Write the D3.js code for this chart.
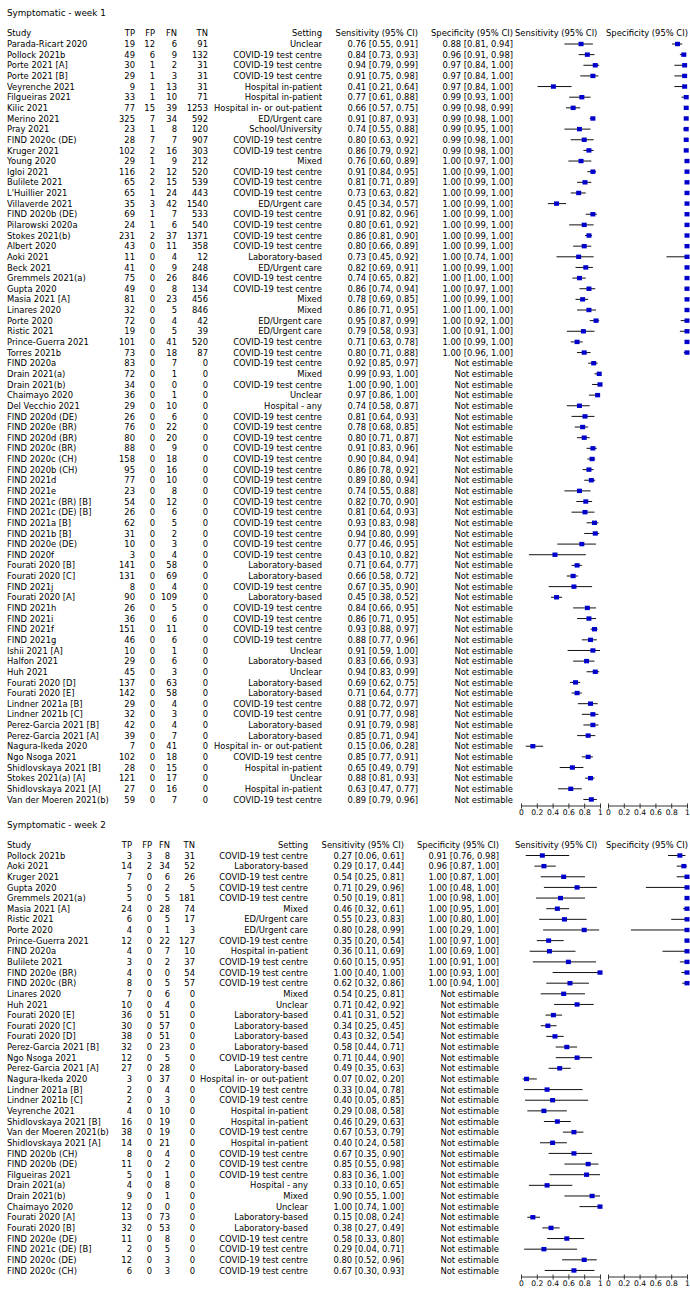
<!DOCTYPE html>
<html><head><meta charset="utf-8">
<script src="https://cdn.jsdelivr.net/npm/d3@7"></script>
<style>html,body{margin:0;padding:0;background:#fff}svg{display:block}</style>
</head><body>
<svg id="chart" width="690" height="1313"></svg>
<script>
// ---------------- DATA ----------------
const COVID = "COVID-19 test centre", LAB = "Laboratory-based", HIP = "Hospital in-patient",
      HIO = "Hospital in- or out-patient", ED = "ED/Urgent care";

// Week 1
const w1Study = ["Parada-Ricart 2020","Pollock 2021b","Porte 2021 [A]","Porte 2021 [B]","Veyrenche 2021","Filgueiras 2021","Kilic 2021","Merino 2021","Pray 2021","FIND 2020c (DE)","Kruger 2021","Young 2020","Igloi 2021","Bulilete 2021","L'Huillier 2021","Villaverde 2021","FIND 2020b (DE)","Pilarowski 2020a","Stokes 2021(b)","Albert 2020","Aoki 2021","Beck 2021","Gremmels 2021(a)","Gupta 2020","Masia 2021 [A]","Linares 2020","Porte 2020","Ristic 2021","Prince-Guerra 2021","Torres 2021b","FIND 2020a","Drain 2021(a)","Drain 2021(b)","Chaimayo 2020","Del Vecchio 2021","FIND 2020d (DE)","FIND 2020e (BR)","FIND 2020d (BR)","FIND 2020c (BR)","FIND 2020c (CH)","FIND 2020b (CH)","FIND 2021d","FIND 2021e","FIND 2021c (BR) [B]","FIND 2021c (DE) [B]","FIND 2021a [B]","FIND 2021b [B]","FIND 2020e (DE)","FIND 2020f","Fourati 2020 [B]","Fourati 2020 [C]","FIND 2021j","Fourati 2020 [A]","FIND 2021h","FIND 2021i","FIND 2021f","FIND 2021g","Ishii 2021 [A]","Halfon 2021","Huh 2021","Fourati 2020 [D]","Fourati 2020 [E]","Lindner 2021a [B]","Lindner 2021b [C]","Perez-Garcia 2021 [B]","Perez-Garcia 2021 [A]","Nagura-Ikeda 2020","Ngo Nsoga 2021","Shidlovskaya 2021 [B]","Stokes 2021(a) [A]","Shidlovskaya 2021 [A]","Van der Moeren 2021(b)"];
const w1TP = [19,49,30,29,9,33,77,325,23,28,102,29,116,65,65,35,69,24,231,43,11,41,75,49,81,32,72,19,101,73,83,72,34,36,29,26,76,80,88,158,95,77,23,54,26,62,31,10,3,141,131,8,90,26,36,151,46,10,29,45,137,142,29,32,42,39,7,102,28,121,27,59];
const w1FP = [12,6,1,1,1,1,15,7,1,7,2,1,2,2,1,3,1,1,2,0,0,0,0,0,0,0,0,0,0,0,0,0,0,0,0,0,0,0,0,0,0,0,0,0,0,0,0,0,0,0,0,0,0,0,0,0,0,0,0,0,0,0,0,0,0,0,0,0,0,0,0,0];
const w1FN = [6,9,2,3,13,10,39,34,8,7,16,9,12,15,24,42,7,6,37,11,4,9,26,8,23,5,4,5,41,18,7,1,0,1,10,6,22,20,9,18,16,10,8,12,6,5,2,3,4,58,69,4,109,5,6,11,6,1,6,3,63,58,4,3,4,7,41,18,15,17,16,7];
const w1TN = [91,132,31,31,31,71,1253,592,120,907,303,212,520,539,443,1540,533,540,1371,358,12,248,846,134,456,846,42,39,520,87,0,0,0,0,0,0,0,0,0,0,0,0,0,0,0,0,0,0,0,0,0,0,0,0,0,0,0,0,0,0,0,0,0,0,0,0,0,0,0,0,0,0];
const w1Setting = ["Unclear",COVID,COVID,COVID,HIP,HIP,HIO,ED,"School/University",COVID,COVID,"Mixed",COVID,COVID,COVID,ED,COVID,COVID,COVID,COVID,LAB,ED,COVID,COVID,"Mixed","Mixed",ED,ED,COVID,COVID,COVID,"Mixed",COVID,"Unclear","Hospital - any",COVID,COVID,COVID,COVID,COVID,COVID,COVID,COVID,COVID,COVID,COVID,COVID,COVID,COVID,LAB,LAB,COVID,LAB,COVID,COVID,COVID,COVID,"Unclear",LAB,"Unclear",LAB,LAB,COVID,COVID,LAB,LAB,HIO,COVID,HIP,"Unclear",HIP,COVID];
const w1Sens   = [0.76,0.84,0.94,0.91,0.41,0.77,0.66,0.91,0.74,0.80,0.86,0.76,0.91,0.81,0.73,0.45,0.91,0.80,0.86,0.80,0.73,0.82,0.74,0.86,0.78,0.86,0.95,0.79,0.71,0.80,0.92,0.99,1.00,0.97,0.74,0.81,0.78,0.80,0.91,0.90,0.86,0.89,0.74,0.82,0.81,0.93,0.94,0.77,0.43,0.71,0.66,0.67,0.45,0.84,0.86,0.93,0.88,0.91,0.83,0.94,0.69,0.71,0.88,0.91,0.91,0.85,0.15,0.85,0.65,0.88,0.63,0.89];
const w1SensLo = [0.55,0.73,0.79,0.75,0.21,0.61,0.57,0.87,0.55,0.63,0.79,0.60,0.84,0.71,0.63,0.34,0.82,0.61,0.81,0.66,0.45,0.69,0.65,0.74,0.69,0.71,0.87,0.58,0.63,0.71,0.85,0.93,0.90,0.86,0.58,0.64,0.68,0.71,0.83,0.84,0.78,0.80,0.55,0.70,0.64,0.83,0.80,0.46,0.10,0.64,0.58,0.35,0.38,0.66,0.71,0.88,0.77,0.59,0.66,0.83,0.62,0.64,0.72,0.77,0.79,0.71,0.06,0.77,0.49,0.81,0.47,0.79];
const w1SensHi = [0.91,0.93,0.99,0.98,0.64,0.88,0.75,0.93,0.88,0.92,0.92,0.89,0.95,0.89,0.82,0.57,0.96,0.92,0.90,0.89,0.92,0.91,0.82,0.94,0.85,0.95,0.99,0.93,0.78,0.88,0.97,1.00,1.00,1.00,0.87,0.93,0.85,0.87,0.96,0.94,0.92,0.94,0.88,0.90,0.93,0.98,0.99,0.95,0.82,0.77,0.72,0.90,0.52,0.95,0.95,0.97,0.96,1.00,0.93,0.99,0.75,0.77,0.97,0.98,0.98,0.94,0.28,0.91,0.79,0.93,0.77,0.96];
const w1Spec   = [0.88,0.96,0.97,0.97,0.97,0.99,0.99,0.99,0.99,0.99,0.99,1,1,1,1,1,1,1,1,1,1,1,1,1,1,1,1,1,1,1];
const w1SpecLo = [0.81,0.91,0.84,0.84,0.84,0.93,0.98,0.98,0.95,0.98,0.98,0.97,0.99,0.99,0.99,0.99,0.99,0.99,0.99,0.99,0.74,0.99,1.00,0.97,0.99,1.00,0.92,0.91,0.99,0.96];
const w1SpecHi = [0.94,0.98,1,1,1,1,0.99,1,1,1,1,1,1,1,1,1,1,1,1,1,1,1,1,1,1,1,1,1,1,1];

// Week 2
const w2Study = ["Pollock 2021b","Aoki 2021","Kruger 2021","Gupta 2020","Gremmels 2021(a)","Masia 2021 [A]","Ristic 2021","Porte 2020","Prince-Guerra 2021","FIND 2020a","Bulilete 2021","FIND 2020e (BR)","FIND 2020c (BR)","Linares 2020","Huh 2021","Fourati 2020 [E]","Fourati 2020 [C]","Fourati 2020 [D]","Perez-Garcia 2021 [B]","Ngo Nsoga 2021","Perez-Garcia 2021 [A]","Nagura-Ikeda 2020","Lindner 2021a [B]","Lindner 2021b [C]","Veyrenche 2021","Shidlovskaya 2021 [B]","Van der Moeren 2021(b)","Shidlovskaya 2021 [A]","FIND 2020b (CH)","FIND 2020b (DE)","Filgueiras 2021","Drain 2021(a)","Drain 2021(b)","Chaimayo 2020","Fourati 2020 [A]","Fourati 2020 [B]","FIND 2020e (DE)","FIND 2021c (DE) [B]","FIND 2020c (DE)","FIND 2020c (CH)"];
const w2TP = [3,14,7,5,5,24,6,4,12,4,3,4,8,7,10,36,30,38,32,12,27,3,2,2,4,16,38,14,8,11,5,4,9,12,13,32,11,2,12,6];
const w2FP = [3,2,0,0,0,0,0,0,0,0,0,0,0,0,0,0,0,0,0,0,0,0,0,0,0,0,0,0,0,0,0,0,0,0,0,0,0,0,0,0];
const w2FN = [8,34,6,2,5,28,5,1,22,7,2,0,5,6,4,51,57,51,23,5,28,37,4,3,10,19,19,21,4,2,1,8,1,0,73,53,8,5,3,3];
const w2TN = [31,52,26,5,181,74,17,3,127,10,37,54,57,0,0,0,0,0,0,0,0,0,0,0,0,0,0,0,0,0,0,0,0,0,0,0,0,0,0,0];
const w2Setting = [COVID,LAB,COVID,COVID,COVID,"Mixed",ED,ED,COVID,HIP,COVID,COVID,COVID,"Mixed","Unclear",LAB,LAB,LAB,LAB,COVID,LAB,HIO,COVID,COVID,HIP,HIP,COVID,HIP,COVID,COVID,COVID,"Hospital - any","Mixed","Unclear",LAB,LAB,COVID,COVID,COVID,COVID];
const w2Sens   = [0.27,0.29,0.54,0.71,0.50,0.46,0.55,0.80,0.35,0.36,0.60,1.00,0.62,0.54,0.71,0.41,0.34,0.43,0.58,0.71,0.49,0.07,0.33,0.40,0.29,0.46,0.67,0.40,0.67,0.85,0.83,0.33,0.90,1.00,0.15,0.38,0.58,0.29,0.80,0.67];
const w2SensLo = [0.06,0.17,0.25,0.29,0.19,0.32,0.23,0.28,0.20,0.11,0.15,0.40,0.32,0.25,0.42,0.31,0.25,0.32,0.44,0.44,0.35,0.02,0.04,0.05,0.08,0.29,0.53,0.24,0.35,0.55,0.36,0.10,0.55,0.74,0.08,0.27,0.33,0.04,0.52,0.30];
const w2SensHi = [0.61,0.44,0.81,0.96,0.81,0.61,0.83,0.99,0.54,0.69,0.95,1.00,0.86,0.81,0.92,0.52,0.45,0.54,0.71,0.90,0.63,0.20,0.78,0.85,0.58,0.63,0.79,0.58,0.90,0.98,1.00,0.65,1.00,1.00,0.24,0.49,0.80,0.71,0.96,0.93];
const w2Spec   = [0.91,0.96,1,1,1,1,1,1,1,1,1,1,1];
const w2SpecLo = [0.76,0.87,0.87,0.48,0.98,0.95,0.80,0.29,0.97,0.69,0.91,0.93,0.94];
const w2SpecHi = [0.98,1,1,1,1,1,1,1,1,1,1,1,1];

const tickVals = [0, 0.2, 0.4, 0.6, 0.8, 1];

// ---------------- LAYOUT ----------------
const FONT = "DejaVu Sans";
const FS = 8.4;
const ROW = 10.64;
const BLUE = "#0000cc";

const sections = [
  { title: "Symptomatic - week 1", top: 44,
    study: w1Study, tp: w1TP, fp: w1FP, fn: w1FN, tn: w1TN, setting: w1Setting,
    sens: w1Sens, sensLo: w1SensLo, sensHi: w1SensHi, spec: w1Spec, specLo: w1SpecLo, specHi: w1SpecHi,
    cols: { study: 7, tp: 135, fp: 155, fn: 177, tn: 208, setting: 322, sens: 418, spec: 513 } },
  { title: "Symptomatic - week 2", top: 855.5,
    study: w2Study, tp: w2TP, fp: w2FP, fn: w2FN, tn: w2TN, setting: w2Setting,
    sens: w2Sens, sensLo: w2SensLo, sensHi: w2SensHi, spec: w2Spec, specLo: w2SpecLo, specHi: w2SpecHi,
    cols: { study: 7, tp: 132, fp: 152, fn: 170, tn: 195, setting: 308, sens: 404, spec: 499 } }
];

const xSens = d3.scaleLinear().domain([0, 1]).range([521, 600]);
const xSpec = d3.scaleLinear().domain([0, 1]).range([608, 687]);
const f2 = d3.format(".2f");

const svg = d3.select("#chart");

sections.forEach(sec => {
  const n = sec.study.length;
  const y = d3.scaleLinear().domain([0, n - 1]).range([sec.top, sec.top + (n - 1) * ROW]);
  const g = svg.append("g").attr("font-family", FONT).attr("font-size", FS).attr("fill", "#000");
  const c = sec.cols;

  // title & header
  g.append("text").attr("x", c.study).attr("y", sec.top - 31 + 3.2).attr("font-size", 8.8).text(sec.title);
  const hy = sec.top - 11 + 3.1;
  const hdr = [["Study", c.study, "start"], ["TP", c.tp, "end"], ["FP", c.fp, "end"], ["FN", c.fn, "end"],
               ["TN", c.tn, "end"], ["Setting", c.setting, "end"], ["Sensitivity (95% CI)", c.sens, "end"],
               ["Specificity (95% CI)", c.spec, "end"], ["Sensitivity (95% CI)", 515, "start"],
               ["Specificity (95% CI)", 606, "start"]];
  g.selectAll("text.hdr").data(hdr).join("text").attr("class", "hdr")
    .attr("x", d => d[1]).attr("y", hy).attr("text-anchor", d => d[2]).text(d => d[0]);

  // rows
  const idx = d3.range(n);
  const rows = g.selectAll("g.row").data(idx).join("g").attr("class", "row");
  const ty = i => y(i) + 3.1;
  rows.append("text").attr("x", c.study).attr("y", ty).text(i => sec.study[i]);
  [["tp", c.tp], ["fp", c.fp], ["fn", c.fn], ["tn", c.tn]].forEach(([k, x]) => {
    rows.append("text").attr("x", x).attr("y", ty).attr("text-anchor", "end").text(i => sec[k][i]);
  });
  rows.append("text").attr("x", c.setting).attr("y", ty).attr("text-anchor", "end").text(i => sec.setting[i]);
  rows.append("text").attr("x", c.sens).attr("y", ty).attr("text-anchor", "end")
    .text(i => `${f2(sec.sens[i])} [${f2(sec.sensLo[i])}, ${f2(sec.sensHi[i])}]`);
  rows.append("text").attr("x", c.spec).attr("y", ty).attr("text-anchor", "end")
    .text(i => i < sec.spec.length ? `${f2(sec.spec[i])} [${f2(sec.specLo[i])}, ${f2(sec.specHi[i])}]` : "Not estimable");

  // forest marks: sensitivity
  const pg = svg.append("g");
  pg.selectAll("line.sci").data(idx).join("line").attr("class", "sci")
    .attr("x1", i => xSens(sec.sensLo[i])).attr("x2", i => xSens(sec.sensHi[i]))
    .attr("y1", i => y(i)).attr("y2", i => y(i)).attr("stroke", "#111").attr("stroke-width", 1);
  pg.selectAll("rect.spt").data(idx).join("rect").attr("class", "spt")
    .attr("x", i => xSens(sec.sens[i]) - 2.5).attr("y", i => y(i) - 2.2)
    .attr("width", 5).attr("height", 4.4).attr("fill", BLUE);
  // specificity
  const sidx = d3.range(sec.spec.length);
  pg.selectAll("line.pci").data(sidx).join("line").attr("class", "pci")
    .attr("x1", i => xSpec(sec.specLo[i])).attr("x2", i => xSpec(sec.specHi[i]))
    .attr("y1", i => y(i)).attr("y2", i => y(i)).attr("stroke", "#111").attr("stroke-width", 1);
  pg.selectAll("rect.ppt").data(sidx).join("rect").attr("class", "ppt")
    .attr("x", i => xSpec(sec.spec[i]) - 2.5).attr("y", i => y(i) - 2.2)
    .attr("width", 5).attr("height", 4.4).attr("fill", BLUE);

  // axes
  const ay = Math.round(y(n - 1) + 6) + 0.5;
  [xSens, xSpec].forEach(sc => {
    const ax = svg.append("g").attr("transform", `translate(0,${ay})`)
      .call(d3.axisBottom(sc).tickValues(tickVals).tickFormat(d3.format("~g")).tickSizeInner(3).tickSizeOuter(0).tickPadding(1));
    ax.select(".domain").attr("stroke", "#333");
    ax.selectAll(".tick line").attr("stroke", "#333").attr("y1", -2);
    ax.selectAll(".tick text").attr("font-family", FONT).attr("font-size", 7.6).attr("fill", "#000");
  });
});
</script>
</body></html>
